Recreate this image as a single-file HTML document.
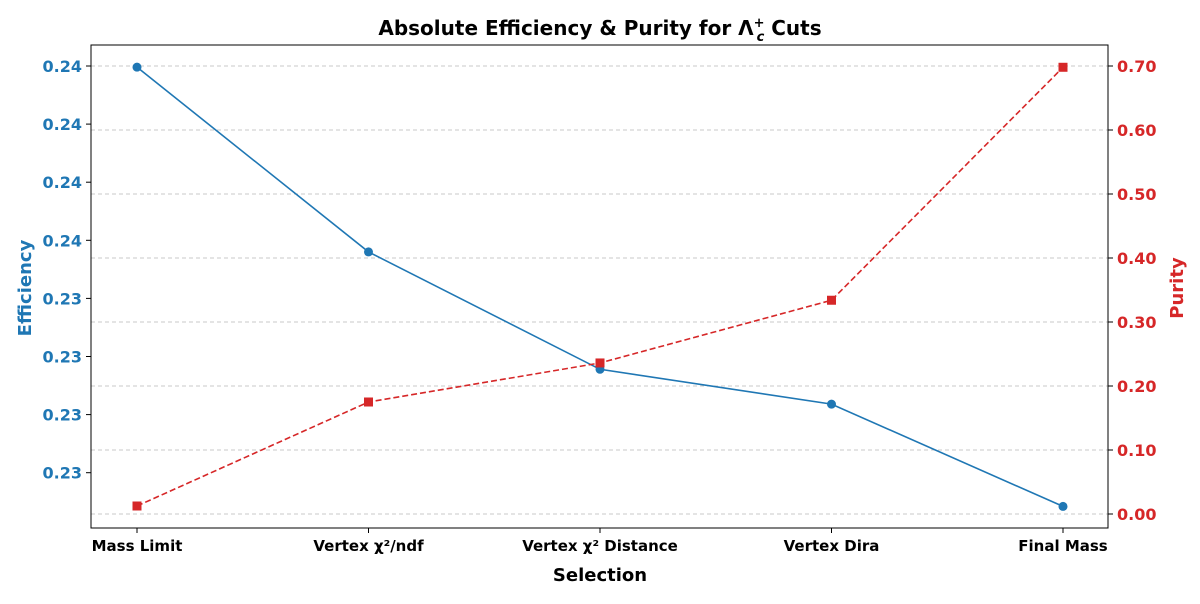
<!DOCTYPE html>
<html><head><meta charset="utf-8"><style>
body{margin:0;background:#fff;font-family:"DejaVu Sans","Liberation Sans",sans-serif;}
svg text{font-family:"DejaVu Sans","Liberation Sans",sans-serif;}
</style></head><body>
<svg id="chart" width="1200" height="600" xmlns="http://www.w3.org/2000/svg">
<rect width="1200" height="600" fill="#fff"/>
<g id="grid"></g>
<g id="series"></g>
<rect x="91" y="45" width="1017" height="483" fill="none" stroke="#000" stroke-width="1"/>
<g id="axes"></g>
<text x="600" y="35" text-anchor="middle" font-size="20" font-weight="bold">Absolute Efficiency &amp; Purity for Λ<tspan font-size="13" dy="-8">+</tspan><tspan font-size="13" dx="-8" dy="14" font-style="italic">c</tspan><tspan dy="-6"> Cuts</tspan></text>
<text x="600" y="581" text-anchor="middle" font-size="18" font-weight="bold">Selection</text>
<text transform="translate(31,288) rotate(-90)" text-anchor="middle" font-size="18" font-weight="bold" fill="#1f77b4">Efficiency</text>
<text transform="translate(1183,288) rotate(-90)" text-anchor="middle" font-size="18" font-weight="bold" fill="#d62728">Purity</text>
</svg>
<script>
const categories=["Mass Limit","Vertex χ²/ndf","Vertex χ² Distance","Vertex Dira","Final Mass"];
const efficiency=[0.23699,0.23540,0.23439,0.23409,0.23321];
const purity=[0.0125,0.175,0.236,0.334,0.698];
const leftTicks=[0.2370,0.2365,0.2360,0.2355,0.2350,0.2345,0.2340,0.2335];
const leftTickLabels=["0.24","0.24","0.24","0.24","0.23","0.23","0.23","0.23"];
const rightTicks=[0,0.1,0.2,0.3,0.4,0.5,0.6,0.7];

const NS="http://www.w3.org/2000/svg";
const xPos=i=>137+i*(1063-137)/(categories.length-1);
const yL=v=>66+(0.2370-v)/0.0005*58.1;
const yR=v=>514-v*640;
function mk(tag,attrs,parent){const e=document.createElementNS(NS,tag);for(const k in attrs)e.setAttribute(k,attrs[k]);parent.appendChild(e);return e;}
const grid=document.getElementById('grid'),axes=document.getElementById('axes'),ser=document.getElementById('series');

rightTicks.forEach((t,i)=>{
  const y=yR(t);
  const g=mk('line',{x1:91,x2:1108,y1:y,y2:y,stroke:'#c8c8c8','stroke-dasharray':'4,3'},grid);
  
  
  const tk=mk('line',{x1:1108,x2:1113,y1:y,y2:y,stroke:'#000'},axes);
  
  
  const tx=mk('text',{x:1117,y:y+6,'font-size':16,'font-weight':'bold',fill:'#d62728'},axes);
  tx.textContent=t.toFixed(2);
  
  
});
leftTicks.forEach((t,i)=>{
  const y=yL(t);
  const tk=mk('line',{x1:86,x2:91,y1:y,y2:y,stroke:'#000'},axes);
  
  
  const tx=mk('text',{x:82,y:y+6,'font-size':16,'font-weight':'bold',fill:'#1f77b4','text-anchor':'end'},axes);
  tx.textContent=leftTickLabels[i];
  
  
});
categories.forEach((c,i)=>{
  const x=xPos(i);
  const tk=mk('line',{x1:x,x2:x,y1:528,y2:533,stroke:'#000'},axes);
  
  
  const tx=mk('text',{x:x,y:551,'font-size':15,'font-weight':'bold','text-anchor':'middle'},axes);
  tx.textContent=c;
  
  
});
const ep=efficiency.map((v,i)=>xPos(i)+','+yL(v)).join(' ');
const l1=mk('polyline',{points:ep,fill:'none',stroke:'#1f77b4','stroke-width':1.6},ser);


efficiency.forEach((v,i)=>{
  const c=mk('circle',{cx:xPos(i),cy:yL(v),r:4.5,fill:'#1f77b4'},ser);
  
  
});
const pp=purity.map((v,i)=>xPos(i)+','+yR(v)).join(' ');
const l2=mk('polyline',{points:pp,fill:'none',stroke:'#d62728','stroke-width':1.6,'stroke-dasharray':'6,3'},ser);


purity.forEach((v,i)=>{
  const r=mk('rect',{x:xPos(i)-4.5,y:yR(v)-4.5,width:9,height:9,fill:'#d62728'},ser);
  
  
});
</script>
</body></html>
